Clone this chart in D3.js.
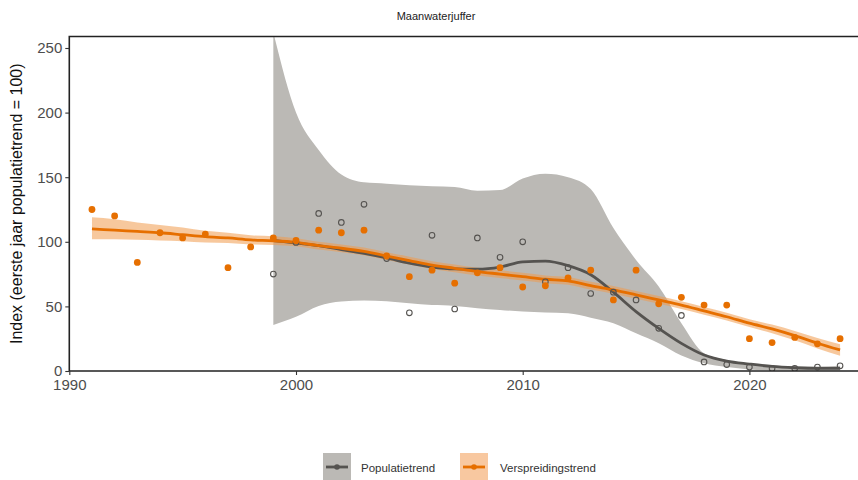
<!DOCTYPE html>
<html>
<head>
<meta charset="utf-8">
<script src="https://cdn.jsdelivr.net/npm/d3@7"></script>
<style>
  body { margin: 0; background: #fff; }
  svg { display: block; font-family: "Liberation Sans", Arial, sans-serif; }
</style>
</head>
<body>
<div id="chart"></div>
<script>
// Data
var years = d3.range(1991, 2025);

// Verspreidingstrend (orange): observed points, 1991-2024
var versprPoints = [125, 120, 84, 107, 103, 106, 80, 96, 103, 101, 109, 107, 109, 89, 73, 78, 68, 76, 80, 65,
                    66, 72, 78, 55, 78, 52, 57, 51, 51, 25, 22, 26, 21, 25];
// smooth trend + ribbon, 1991-2024
var versprTrend = [110, 109, 108, 107, 105.5, 104, 103, 101.5, 100.8, 99.5, 97, 95, 92.5, 89, 85.5, 82, 79.5, 77, 75, 73,
                   71, 69.8, 66, 62.8, 59, 55, 51, 46.5, 42, 37, 32.6, 27.4, 21.5, 16.3];
var versprLow = [102, 102, 101.5, 101, 100.5, 99.5, 99, 98, 97.5, 96.5, 94, 92, 89.5, 86, 82.5, 79, 76.5, 74, 72, 70,
                 68, 66.8, 63, 59.8, 56, 52, 48, 43.5, 39, 34, 29.3, 23.8, 17.5, 11.8];
var versprHigh = [119, 117.5, 115, 113, 111, 108.5, 107, 105, 104.3, 102.8, 100, 98, 95.5, 92, 88.5, 85, 82.5, 80, 78, 76,
                  74, 72.8, 69, 65.8, 62, 58, 54, 49.5, 45, 40, 35.9, 31, 25.5, 20.8];

// Populatietrend (grey): observed points, 1999-2024
var popYears = d3.range(1999, 2025);
var popPoints = [75, 99.5, 122, 115, 129, 87, 45, 105, 48, 103, 88, 100, 69, 80, 60, 61, 55, 33, 43, 7,
                 5, 3, 2, 2, 3, 4];
var popTrend = [101, 99, 97, 94, 91, 87.5, 83.5, 80.5, 79, 78.8, 80.4, 84.5, 85, 81.5, 74.5, 61, 46, 33, 21.4, 12.4,
                7.7, 5.4, 3.5, 2.5, 2, 2];
var popLow = [35.7, 42, 50.4, 53.7, 54.5, 54, 52.5, 51, 50.4, 48.6, 47.3, 46, 45.2, 44.7, 41.3, 37, 29.2, 21.5, 12, 6,
              3, 1.2, 0.6, 0.4, 0.3, 0.3];
var popHigh = [262, 200, 171, 152, 146, 145, 143.7, 143, 142.4, 139.5, 140, 149, 152.7, 150, 140.8, 110.6, 86, 65.4, 37, 13.7,
               8.5, 5.2, 4, 3.5, 3.5, 4];

var xTicks = [1990, 2000, 2010, 2020];
var yTicks = [0, 50, 100, 150, 200, 250];

var chartTitle = "Maanwaterjuffer";
var yTitle = "Index (eerste jaar populatietrend = 100)";
var legendLabels = ["Populatietrend", "Verspreidingstrend"];

// Colours
var greyLine = "#555350";
var greyRibbon = "#bbb9b5";
var orange = "#e66f00";
var orangeRibbon = "#f09a4d";

// Layout
var width = 858, height = 480;
var panel = { left: 69.3, top: 36.5, bottom: 371 };

var svg = d3.select("#chart").append("svg")
    .attr("width", width)
    .attr("height", height);

var x = d3.scaleLinear().domain([1990, 2025]).range([panel.left, panel.left + 35 * 22.67]);
var y = d3.scaleLinear().domain([0, 258.9]).range([panel.bottom, panel.top]);

svg.append("clipPath").attr("id", "clip")
  .append("rect")
    .attr("x", panel.left).attr("y", panel.top)
    .attr("width", width).attr("height", panel.bottom - panel.top);

var plot = svg.append("g").attr("clip-path", "url(#clip)");

function area(low, high, xs) {
    return d3.area()
        .x(function (d, i) { return x(xs[i]); })
        .y0(function (d, i) { return y(low[i]); })
        .y1(function (d, i) { return y(high[i]); })
        .curve(d3.curveMonotoneX)(low);
}
function line(vals, xs) {
    return d3.line()
        .x(function (d, i) { return x(xs[i]); })
        .y(function (d) { return y(d); })
        .curve(d3.curveMonotoneX)(vals);
}

// ribbons
plot.append("path").attr("d", area(popLow, popHigh, popYears)).attr("fill", greyRibbon);
plot.append("path").attr("d", area(versprLow, versprHigh, years)).attr("fill", orangeRibbon).attr("opacity", 0.55);

// trend lines
plot.append("path").attr("d", line(popTrend, popYears))
    .attr("fill", "none").attr("stroke", greyLine).attr("stroke-width", 2.8);
plot.append("path").attr("d", line(versprTrend, years))
    .attr("fill", "none").attr("stroke", orange).attr("stroke-width", 2.8);

// points
plot.selectAll(".pop-pt").data(popPoints).enter().append("circle")
    .attr("class", "pop-pt")
    .attr("cx", function (d, i) { return x(popYears[i]); })
    .attr("cy", function (d) { return y(d); })
    .attr("r", 2.8)
    .attr("fill", "none")
    .attr("stroke", greyLine)
    .attr("stroke-width", 1.1);

plot.selectAll(".vsp-pt").data(versprPoints).enter().append("circle")
    .attr("class", "vsp-pt")
    .attr("cx", function (d, i) { return x(years[i]); })
    .attr("cy", function (d) { return y(d); })
    .attr("r", 3.4)
    .attr("fill", orange);

// panel border (top, left, bottom)
svg.append("path")
    .attr("d", "M" + width + "," + panel.top + "H" + panel.left + "V" + panel.bottom + "H" + width)
    .attr("fill", "none").attr("stroke", "#222").attr("stroke-width", 1.6);

// axes
var yAxis = svg.append("g")
    .attr("transform", "translate(" + panel.left + ",0)")
    .call(d3.axisLeft(y).tickValues(yTicks).tickSize(4).tickPadding(3));
var xAxis = svg.append("g")
    .attr("transform", "translate(0," + panel.bottom + ")")
    .call(d3.axisBottom(x).tickValues(xTicks).tickFormat(d3.format("d")).tickSize(4).tickPadding(4));

[yAxis, xAxis].forEach(function (ax) {
    ax.select(".domain").remove();
    ax.selectAll(".tick line").attr("stroke", "#333").attr("stroke-width", 1.1);
    ax.selectAll(".tick text").attr("fill", "#4d4d4d").style("font-size", "15px");
});

// title
svg.append("text")
    .attr("x", 436).attr("y", 20)
    .attr("text-anchor", "middle")
    .style("font-size", "11px")
    .attr("fill", "#222")
    .text(chartTitle);

// y axis title
svg.append("text")
    .attr("transform", "translate(22," + ((panel.top + panel.bottom) / 2) + ") rotate(-90)")
    .attr("text-anchor", "middle")
    .style("font-size", "16px")
    .attr("fill", "#111")
    .text(yTitle);

// legend
var legend = svg.append("g").attr("transform", "translate(323,453)");
var keys = [
    { label: legendLabels[0], fill: greyRibbon, stroke: greyLine, x: 0, tx: 38 },
    { label: legendLabels[1], fill: "#f8c8a0", stroke: orange, x: 137, tx: 177 }
];
keys.forEach(function (k) {
    var g = legend.append("g").attr("transform", "translate(" + k.x + ",0)");
    g.append("rect").attr("width", 28).attr("height", 28).attr("fill", k.fill);
    g.append("line").attr("x1", 3).attr("x2", 25).attr("y1", 14).attr("y2", 14)
        .attr("stroke", k.stroke).attr("stroke-width", 2.8);
    g.append("circle").attr("cx", 14).attr("cy", 14).attr("r", 2.8).attr("fill", k.stroke);
    legend.append("text")
        .attr("x", k.tx).attr("y", 18.5)
        .style("font-size", "11.5px")
        .attr("fill", "#333")
        .text(k.label);
});
</script>
</body>
</html>
